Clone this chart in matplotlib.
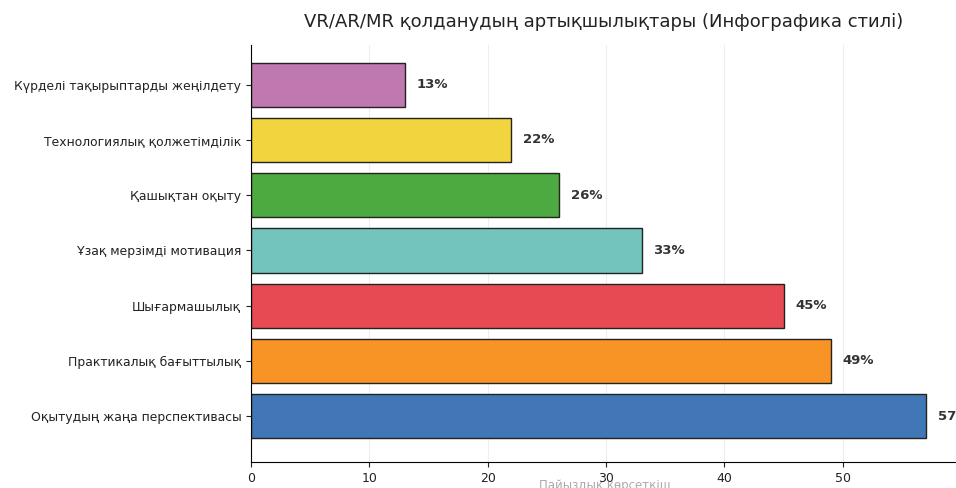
import matplotlib.pyplot as plt

plt.rcParams['font.family'] = ['DejaVu Sans']

categories = ['Оқытудың жаңа перспективасы', 'Практикалық бағыттылық', 'Шығармашылық',
              'Ұзақ мерзімді мотивация', 'Қашықтан оқыту', 'Технологиялық қолжетімділік',
              'Күрделі тақырыптарды жеңілдету']
values = [57, 49, 45, 33, 26, 22, 13]
colors = ['#4277b5', '#f89426', '#e84a53', '#74c4be', '#4daa40', '#f2d53e', '#c078b0']

fig = plt.figure(figsize=(9.56, 4.88), dpi=100)
ax = fig.add_axes([0.2626, 0.0533, 0.741, 0.8545])

ax.barh(categories, values, height=0.8, color=colors, edgecolor='#222222', linewidth=1)
for i, v in enumerate(values):
    ax.text(v + 1, i, f'{v}%', va='center', ha='left', fontsize=9.5,
            fontweight='bold', color='#333333')

ax.set_xlim(0, 59.85)
ax.set_ylim(-0.83, 6.72)
ax.set_xticks([0, 10, 20, 30, 40, 50])
ax.grid(axis='x', color='#eeeeee', linewidth=0.8)
ax.set_axisbelow(True)
ax.spines['top'].set_visible(False)
ax.spines['right'].set_visible(False)
ax.tick_params(axis='y', labelsize=8.9, colors='#222222')
ax.tick_params(axis='x', labelsize=9, colors='#222222')
ax.set_xlabel('Пайыздық көрсеткіш', fontsize=8.5, color='#aaaaaa')
ax.xaxis.set_label_coords(0.5, -0.04)

fig.text(0.631, 0.955, 'VR/AR/MR қолданудың артықшылықтары (Инфографика стилі)',
         ha='center', va='center', fontsize=13, color='#222222')

fig.savefig('out.png', dpi=100)
